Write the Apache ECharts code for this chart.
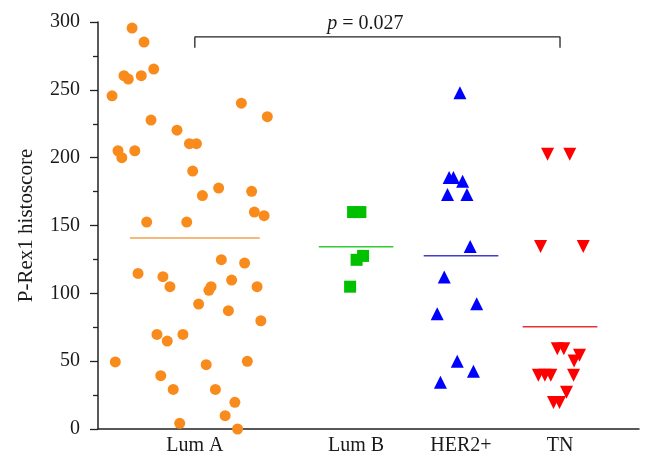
<!DOCTYPE html>
<html>
<head>
<meta charset="utf-8">
<script src="https://cdn.jsdelivr.net/npm/echarts@6/dist/echarts.min.js"></script>
<style>html,body{margin:0;padding:0;background:#fff;}#c{width:654px;height:468px;}</style>
</head>
<body>
<div id="c"></div>
<script>
// ---- data ----
const categories = ['Lum A', 'Lum B', 'HER2+', 'TN'];
const categoryPos = [17.9, 47.7, 67.1, 85.4];   // category centres on the hidden x scale
const yTicks = [0, 50, 100, 150, 200, 250, 300];
// [horizontal jitter, histoscore]
const lumA = [
  [-11.6, 295.5], [-9.4, 285.2], [-13.1, 260.4], [-12.3, 257.9], [-9.9, 260.4], [-7.6, 265.3],
  [-15.3, 245.6], [-8.1, 227.7], [-3.3, 220.3], [8.6, 240.2], [13.4, 230.2], [-14.2, 205.1],
  [-13.5, 200.0], [-11.1, 205.1], [-1.0, 210.3], [0.3, 210.3], [-0.4, 190.1], [1.4, 172.1],
  [4.4, 177.6], [10.5, 175.2], [11.0, 159.9], [12.8, 157.2], [-8.9, 152.5], [-1.5, 152.5],
  [-10.5, 114.7], [-5.9, 112.3], [-4.6, 104.9], [4.9, 124.8], [9.2, 122.3], [6.8, 109.8],
  [3.0, 104.9], [2.6, 102.2], [11.5, 104.9], [0.7, 92.1], [6.2, 87.2], [12.2, 79.8],
  [-7.0, 69.7], [-5.1, 64.8], [-2.2, 69.7], [-14.7, 49.4], [2.1, 47.4], [9.7, 49.9],
  [-6.3, 39.3], [-4.0, 29.2], [3.8, 29.2], [7.4, 19.7], [5.6, 9.8], [-2.8, 4.2], [7.9, 0]
];
const lumB = [[-0.55, 159.9], [0.8, 159.9], [1.3, 127.6], [0.1, 124.7], [-1.1, 104.9]];
const her2 = [
  [-0.2, 247.8], [-2.2, 185.3], [-1.4, 185.3], [0.3, 182.7], [-2.5, 172.8], [1.1, 172.8],
  [1.7, 134.6], [-3.1, 112.0], [2.9, 92.4], [-4.4, 85.0], [-0.7, 49.9], [2.3, 42.5], [-3.8, 34.4]
];
const tn = [
  [-2.3, 202.6], [1.8, 202.6], [-3.6, 134.6], [4.3, 134.6], [-0.5, 59.2], [0.7, 59.2],
  [3.6, 54.3], [2.6, 50.1], [-4.0, 39.6], [-2.8, 39.6], [-1.7, 39.6], [2.5, 39.6],
  [1.2, 27.1], [-1.2, 19.5], [-0.1, 19.5]
];
const means = [140.7, 134.3, 127.7, 75.4];
const bracketTop = 289, bracketBottom = 281;
const pText = '0.027';

// ---- styling ----
const meanHalf = [12.0, 6.9, 6.9, 6.9];
const dotColors = ['#F98B1C', '#00C000', '#0000FF', '#FF0000'];
const lineColors = ['#F6A050', '#33CC33', '#3F3FC8', '#E83030'];
const FONT = 'Liberation Serif';
const TXT = '#1a1a1a';

const groups = [lumA, lumB, her2, tn];
const symbols = [
  {symbol: 'circle', symbolSize: 11, symbolRotate: 0},
  {symbol: 'rect', symbolSize: 12, symbolRotate: 0},
  {symbol: 'triangle', symbolSize: [13, 13], symbolRotate: 0},
  {symbol: 'triangle', symbolSize: [13, 13], symbolRotate: 180}
];

const series = [];
groups.forEach((g, i) => {
  series.push({
    type: 'scatter',
    name: categories[i],
    data: g.map(([dx, y]) => [categoryPos[i] + dx, y]),
    symbol: symbols[i].symbol,
    symbolSize: symbols[i].symbolSize,
    symbolRotate: symbols[i].symbolRotate,
    itemStyle: {color: dotColors[i], opacity: 1},
    clip: false,
    z: 3
  });
  series.push({
    type: 'line',
    data: [[categoryPos[i] - meanHalf[i], means[i]], [categoryPos[i] + meanHalf[i], means[i]]],
    symbol: 'none',
    lineStyle: {color: lineColors[i], width: 1.5},
    z: 4
  });
});
// significance bracket
series.push({
  type: 'line',
  data: [[categoryPos[0], bracketBottom], [categoryPos[0], bracketTop],
         [categoryPos[3], bracketTop], [categoryPos[3], bracketBottom]],
  symbol: 'none',
  lineStyle: {color: '#222', width: 1.3},
  z: 2
});
series.push({
  type: 'scatter',
  data: [[(categoryPos[0] + categoryPos[3]) / 2, bracketTop]],
  symbolSize: 0,
  silent: true,
  itemStyle: {opacity: 1, color: TXT},
  label: {
    show: true, position: 'top', distance: 3, offset: [-12, 0], opacity: 1,
    formatter: '{i|p} = ' + pText,
    fontFamily: FONT, fontSize: 20, color: TXT,
    rich: {i: {fontStyle: 'italic', fontFamily: FONT, fontSize: 20, color: TXT}}
  }
});

const chart = echarts.init(document.getElementById('c'), null, {renderer: 'canvas'});
chart.setOption({
  animation: false,
  backgroundColor: '#fff',
  grid: {left: 98, right: 15, top: 22, bottom: 39, containLabel: false},
  xAxis: {
    type: 'value', min: 0, max: 100,
    axisLine: {show: true, onZero: false, lineStyle: {color: '#222', width: 1.5}},
    axisTick: {show: false},
    splitLine: {show: false},
    axisLabel: {
      customValues: categoryPos,
      formatter: v => {
        let best = 0;
        categoryPos.forEach((p, k) => { if (Math.abs(p - v) < Math.abs(categoryPos[best] - v)) best = k; });
        return categories[best];
      },
      fontFamily: FONT, fontSize: 20, color: TXT, margin: 7
    }
  },
  yAxis: {
    type: 'value', min: yTicks[0], max: yTicks[yTicks.length - 1], interval: 50,
    name: 'P-Rex1 histoscore', nameLocation: 'middle', nameGap: 61,
    nameTextStyle: {fontFamily: FONT, fontSize: 21, color: TXT},
    axisLine: {show: true, lineStyle: {color: '#222', width: 1.5}},
    axisTick: {show: true, length: 8, lineStyle: {color: '#222', width: 1.3}},
    minorTick: {show: true, splitNumber: 2, length: 5, lineStyle: {color: '#222', width: 1.3}},
    splitLine: {show: false},
    axisLabel: {fontFamily: FONT, fontSize: 20, color: TXT, margin: 18}
  },
  series: series
});
</script>
</body>
</html>
